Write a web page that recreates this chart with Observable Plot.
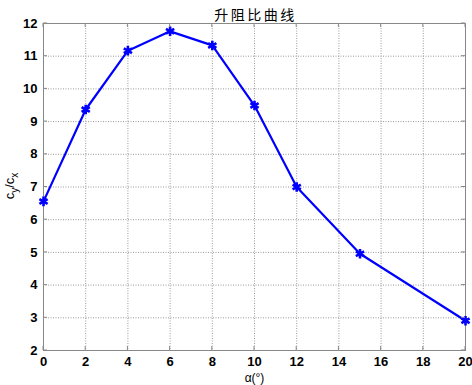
<!DOCTYPE html>
<html><head><meta charset="utf-8">
<script src="https://cdn.jsdelivr.net/npm/d3@7"></script>
<script src="https://cdn.jsdelivr.net/npm/@observablehq/plot@0.6"></script>
<style>
html,body{margin:0;padding:0;background:#fff;}
svg{display:block;}
</style>
</head><body>
<div id="chart"></div>
<script>
const alpha = [0, 2, 4, 6, 8, 10, 12, 15, 20];
const ratio = [6.56, 9.37, 11.17, 11.76, 11.33, 9.49, 7.0, 4.96, 2.91];
const xTicks = [0, 2, 4, 6, 8, 10, 12, 14, 16, 18, 20];
const yTicks = [2, 3, 4, 5, 6, 7, 8, 9, 10, 11, 12];
const titleText = "升阻比曲线";
const xLabel = "α(°)";

const data = alpha.map((a, i) => ({a, r: ratio[i]}));

const plot = Plot.plot({
  width: 472,
  height: 385,
  marginLeft: 43,
  marginRight: 7,
  marginTop: 23,
  marginBottom: 35,
  style: {fontFamily: "Liberation Sans, Arial, sans-serif", fontSize: "13px", fontWeight: "bold", color: "#000", background: "#fff"},
  x: {domain: [0, 20], ticks: xTicks, label: null},
  y: {domain: [2, 12], ticks: yTicks, label: null},
  marks: [
    Plot.gridX(xTicks, {stroke: "#999", strokeOpacity: 1, strokeDasharray: "1,1.5", strokeWidth: 1}),
    Plot.gridY(yTicks, {stroke: "#999", strokeOpacity: 1, strokeDasharray: "1,1.5", strokeWidth: 1}),
    Plot.frame({stroke: "#888", strokeWidth: 1}),
    Plot.axisX({ticks: xTicks, tickSize: 0, tickPadding: 6, fontSize: 13, fontWeight: "bold", label: null}),
    Plot.axisY({ticks: yTicks, tickSize: 0, tickPadding: 6, fontSize: 13, fontWeight: "bold", label: null}),
    Plot.line(data, {x: "a", y: "r", stroke: "#0000ff", strokeWidth: 2.2}),
    Plot.dot(data, {x: "a", y: "r", symbol: "asterisk", r: 4.5, stroke: "#0000ff", strokeWidth: 2.6}),
    Plot.text([titleText], {frameAnchor: "top", dy: -13, dx: 1, text: d => d, fontSize: 14, fontWeight: "normal", fontFamily: "Noto Sans CJK SC", fill: "#000", className: "ttl"}),
    Plot.text([xLabel], {frameAnchor: "bottom", dy: 31, text: d => d, fontSize: 12, fontWeight: "normal", fill: "#000"})
  ]
});

document.getElementById("chart").appendChild(plot);

const svg = d3.select(plot);
svg.selectAll(".ttl text").style("letter-spacing", "2.5px");

// y label with subscripts: c_y/c_x
const yl = svg.append("text")
  .attr("transform", "translate(14,186) rotate(-90)")
  .attr("text-anchor", "middle")
  .attr("font-size", 13)
  .attr("font-weight", "normal")
  .attr("font-family", "Liberation Sans, Arial, sans-serif")
  .attr("fill", "#000");
yl.append("tspan").text("c");
yl.append("tspan").attr("font-size", 10).attr("dy", 4).text("y");
yl.append("tspan").attr("dy", -4).text("/c");
yl.append("tspan").attr("font-size", 10).attr("dy", 4).text("x");

// inward ticks (MATLAB style)
const xs = d3.scaleLinear().domain([0, 20]).range([43, 465]);
const ys = d3.scaleLinear().domain([2, 12]).range([350, 23]);
const tg = svg.append("g").attr("stroke", "#888").attr("stroke-width", 1);
xTicks.forEach(t => {
  tg.append("line").attr("x1", xs(t)).attr("x2", xs(t)).attr("y1", 350).attr("y2", 346);
  tg.append("line").attr("x1", xs(t)).attr("x2", xs(t)).attr("y1", 23).attr("y2", 27);
});
yTicks.forEach(t => {
  tg.append("line").attr("x1", 43).attr("x2", 47).attr("y1", ys(t)).attr("y2", ys(t));
  tg.append("line").attr("x1", 465).attr("x2", 461).attr("y1", ys(t)).attr("y2", ys(t));
});
</script>
</body></html>
